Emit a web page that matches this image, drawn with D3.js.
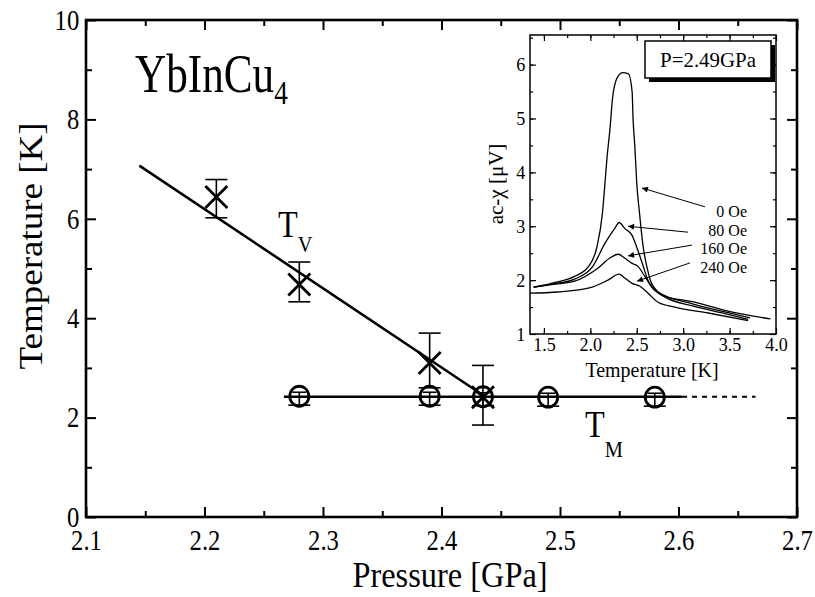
<!DOCTYPE html>
<html>
<head>
<meta charset="utf-8">
<script src="https://cdn.jsdelivr.net/npm/d3@7"></script>
<style>
  body { margin: 0; background: #fff; }
  svg { display: block; }
</style>
</head>
<body>
<script>
// main panel: T_V (crosses) and T_M (circles) vs pressure
const tvPressure = [2.21, 2.28, 2.39, 2.435];
const tvTemp     = [6.44, 4.68, 3.10, 2.41];
const tvErrLow   = [6.02, 4.33, 2.60, 1.85];
const tvErrHigh  = [6.79, 5.13, 3.70, 3.05];

const tmPressure = [2.28, 2.39, 2.435, 2.49, 2.58];
const tmTemp     = [2.43, 2.43, 2.42, 2.41, 2.41];
const tmErrLow   = [2.25, 2.25, 2.24, 2.23, 2.23];
const tmErrHigh  = [2.51, 2.51, 2.50, 2.49, 2.49];

// guide lines
const tvFitP = [2.145, 2.437], tvFitT = [7.07, 2.42];
const tmFitP = [2.267, 2.603], tmFitT = [2.42, 2.42];
const tmExtP = [2.603, 2.665], tmExtT = [2.42, 2.42];

// inset: ac-chi vs temperature at P = 2.49 GPa
const fields = ["0 Oe", "80 Oe", "160 Oe", "240 Oe"];
const chiT = [
  [1.39, 1.6, 1.83, 1.975, 2.07, 2.13, 2.16, 2.18, 2.21, 2.24, 2.29, 2.35, 2.41, 2.45, 2.46, 2.48, 2.50, 2.53, 2.57, 2.61, 2.66, 2.80, 3.10, 3.45, 3.94],
  [1.39, 1.6, 1.83, 2.02, 2.16, 2.27, 2.31, 2.37, 2.45, 2.50, 2.56, 2.62, 2.73, 3.10, 3.45, 3.72],
  [1.39, 1.6, 1.83, 2.08, 2.21, 2.30, 2.37, 2.45, 2.51, 2.59, 2.66, 2.80, 3.10, 3.45, 3.70],
  [1.35, 1.65, 2.02, 2.19, 2.31, 2.37, 2.45, 2.53, 2.62, 2.73, 2.91, 3.27, 3.70]
];
const chiV = [
  [1.87, 1.95, 2.07, 2.24, 2.61, 3.24, 3.85, 4.28, 4.78, 5.39, 5.76, 5.85, 5.83, 5.50, 5.00, 4.46, 3.80, 3.24, 2.61, 2.24, 1.94, 1.70, 1.60, 1.44, 1.28],
  [1.87, 1.93, 2.02, 2.24, 2.69, 2.98, 3.07, 2.96, 2.83, 2.61, 2.31, 2.00, 1.78, 1.56, 1.41, 1.30],
  [1.87, 1.92, 1.98, 2.22, 2.41, 2.48, 2.41, 2.31, 2.26, 2.06, 1.87, 1.69, 1.52, 1.38, 1.27],
  [1.76, 1.78, 1.87, 2.00, 2.11, 2.04, 1.94, 1.89, 1.76, 1.59, 1.50, 1.39, 1.25]
];
// arrows from labels to curves, in inset data units
const arrowFromT = [3.235, 3.052, 3.095, 3.074], arrowFromV = [3.36, 2.89, 2.65, 2.32];
const arrowToT   = [2.556, 2.406, 2.406, 2.503], arrowToV   = [3.71, 3.00, 2.45, 1.98];

const W = 815, H = 597;
const SX = 0.85; // the printed figure is squeezed horizontally
const FONT = '"Liberation Serif", "Times New Roman", serif';

const svg = d3.select("body").append("svg").attr("width", W).attr("height", H);

const x = d3.scaleLinear().domain([2.1, 2.7]).range([86, 797]);
const y = d3.scaleLinear().domain([0, 10]).range([517, 20]);

// squeezed text; parts = [[text, size, dy], ...]
const label = (px, py, parts, anchor = "start", rot = 0, sx = SX) => {
  const t = svg.append("text")
    .attr("text-anchor", anchor)
    .attr("transform", rot ? `translate(${px},${py}) rotate(${rot}) scale(1,${sx})`
                           : `translate(${px},${py}) scale(${sx},1)`);
  parts.forEach(([s, size, dy]) => t.append("tspan").attr("font-size", size).attr("dy", dy || 0).text(s));
  return t;
};

const styleAxis = (g, size, sw) => {
  g.select(".domain").remove();
  g.selectAll("line").attr("stroke-width", sw);
  g.attr("font-size", size);
  g.selectAll("text").attr("fill", "#000").attr("transform", `scale(${SX},1)`);
};

// main axes, ticks inward on all sides
const mainAxes = (xs, ys, left, right, top, bottom, major, minor, fs, sw, xMinor, yMinor, xFmt, yFmt) => {
  svg.append("g").attr("transform", `translate(0,${bottom})`)
    .call(d3.axisBottom(xs).ticks(6).tickFormat(xFmt).tickSize(-major).tickPadding(12))
    .call(g => styleAxis(g, fs, sw));
  svg.append("g").attr("transform", `translate(0,${bottom})`)
    .call(d3.axisBottom(xs).tickValues(xMinor).tickFormat("").tickSize(-minor))
    .call(g => styleAxis(g, fs, sw));
  svg.append("g").attr("transform", `translate(0,${top})`)
    .call(d3.axisTop(xs).ticks(6).tickFormat("").tickSize(-major))
    .call(g => styleAxis(g, fs, sw));
  svg.append("g").attr("transform", `translate(0,${top})`)
    .call(d3.axisTop(xs).tickValues(xMinor).tickFormat("").tickSize(-minor))
    .call(g => styleAxis(g, fs, sw));
  svg.append("g").attr("transform", `translate(${left},0)`)
    .call(d3.axisLeft(ys).ticks(6).tickFormat(yFmt).tickSize(-major).tickPadding(8))
    .call(g => styleAxis(g, fs, sw));
  svg.append("g").attr("transform", `translate(${left},0)`)
    .call(d3.axisLeft(ys).tickValues(yMinor).tickFormat("").tickSize(-minor))
    .call(g => styleAxis(g, fs, sw));
  svg.append("g").attr("transform", `translate(${right},0)`)
    .call(d3.axisRight(ys).ticks(6).tickFormat("").tickSize(-major))
    .call(g => styleAxis(g, fs, sw));
  svg.append("g").attr("transform", `translate(${right},0)`)
    .call(d3.axisRight(ys).tickValues(yMinor).tickFormat("").tickSize(-minor))
    .call(g => styleAxis(g, fs, sw));
};

mainAxes(x, y, 86, 797, 20, 517, 10, 6, 29, 2,
  d3.range(2.15, 2.7, 0.1), d3.range(1, 10, 2), d3.format(".1f"), d3.format("d"));

svg.append("rect").attr("x", 86).attr("y", 20).attr("width", 711).attr("height", 497)
  .attr("fill", "none").attr("stroke", "#000").attr("stroke-width", 2.6);

// guide lines
const mline = d3.line().x(d => x(d[0])).y(d => y(d[1]));
svg.append("path").datum(d3.zip(tvFitP, tvFitT)).attr("d", mline)
  .attr("fill", "none").attr("stroke", "#000").attr("stroke-width", 2.6);
svg.append("path").datum(d3.zip(tmFitP, tmFitT)).attr("d", mline)
  .attr("fill", "none").attr("stroke", "#000").attr("stroke-width", 2.6);
svg.append("path").datum(d3.zip(tmExtP, tmExtT)).attr("d", mline)
  .attr("fill", "none").attr("stroke", "#000").attr("stroke-width", 2).attr("stroke-dasharray", "5,5");

// error bars
const errBars = (P, lo, hi, capLo, capHi) => {
  const g = svg.append("g").attr("stroke", "#000").attr("stroke-width", 1.6);
  P.forEach((p, i) => {
    g.append("line").attr("x1", x(p)).attr("x2", x(p)).attr("y1", y(lo[i])).attr("y2", y(hi[i]));
    g.append("line").attr("x1", x(p) - capLo).attr("x2", x(p) + capLo).attr("y1", y(lo[i])).attr("y2", y(lo[i]));
    g.append("line").attr("x1", x(p) - capHi).attr("x2", x(p) + capHi).attr("y1", y(hi[i])).attr("y2", y(hi[i]));
  });
};
errBars(tvPressure, tvErrLow, tvErrHigh, 11, 11);
errBars(tmPressure, tmErrLow, tmErrHigh, 11, 7);

// circles (T_M)
svg.append("g").selectAll("ellipse").data(d3.zip(tmPressure, tmTemp)).join("ellipse")
  .attr("cx", d => x(d[0])).attr("cy", d => y(d[1])).attr("rx", 9.5).attr("ry", 10)
  .attr("fill", "none").attr("stroke", "#000").attr("stroke-width", 2.8);

// crosses (T_V)
const cs = 11;
svg.append("g").selectAll("path").data(d3.zip(tvPressure, tvTemp)).join("path")
  .attr("d", d => {
    const cx = x(d[0]), cy = y(d[1]);
    return `M${cx - cs},${cy - cs}L${cx + cs},${cy + cs}M${cx - cs},${cy + cs}L${cx + cs},${cy - cs}`;
  })
  .attr("fill", "none").attr("stroke", "#000").attr("stroke-width", 2.8);

// text of main panel
label(135, 92, [["YbInCu", 54], ["4", 34, 12]], "start", 0, 0.8);
label(278, 237, [["T", 38], ["V", 24, 15]]);
label(585, 437, [["T", 38], ["M", 24, 20]]);
label(450, 587, [["Pressure [GPa]", 36]], "middle", 0, 0.9);
label(42, 246, [["Temperature [K]", 37]], "middle", -90, 0.9);

// ---------- inset ----------
const ix = d3.scaleLinear().domain([1.35, 4.0]).range([530, 776]);
const iy = d3.scaleLinear().domain([1, 6.55]).range([334, 35]);

svg.append("rect").attr("x", 530).attr("y", 35).attr("width", 246).attr("height", 299)
  .attr("fill", "#fff");

const insetTicks = (gen, tr, vals, size, fmt, pad) =>
  svg.append("g").attr("transform", tr)
    .call(gen.tickValues(vals).tickFormat(fmt).tickSize(-size).tickPadding(pad || 3))
    .call(g => styleAxis(g, 19, 1.2))
    .call(g => g.selectAll("text").attr("transform", "scale(0.95,1)"));

const ixMajor = d3.range(1.5, 4.01, 0.5), ixMinor = d3.range(1.5, 4.0, 0.25);
const iyMajor = d3.range(1, 6.01, 1), iyMinor = d3.range(1.5, 6.6, 0.5);
insetTicks(d3.axisBottom(ix), "translate(0,334)", ixMajor, 6, d3.format(".1f"), 4);
insetTicks(d3.axisBottom(ix), "translate(0,334)", ixMinor, 3, "");
insetTicks(d3.axisTop(ix), "translate(0,35)", ixMajor, 6, "");
insetTicks(d3.axisTop(ix), "translate(0,35)", ixMinor, 3, "");
insetTicks(d3.axisLeft(iy), "translate(530,0)", iyMajor, 6, d3.format("d"), 5);
insetTicks(d3.axisLeft(iy), "translate(530,0)", iyMinor, 3, "");
insetTicks(d3.axisRight(iy), "translate(776,0)", iyMajor, 6, "");
insetTicks(d3.axisRight(iy), "translate(776,0)", iyMinor, 3, "");

svg.append("rect").attr("x", 530).attr("y", 35).attr("width", 246).attr("height", 299)
  .attr("fill", "none").attr("stroke", "#000").attr("stroke-width", 1.5);

const iline = d3.line().x(d => ix(d[0])).y(d => iy(d[1])).curve(d3.curveMonotoneX);
svg.append("g").selectAll("path").data(fields.map((f, i) => d3.zip(chiT[i], chiV[i]))).join("path")
  .attr("d", iline).attr("fill", "none").attr("stroke", "#000").attr("stroke-width", 1.3);

svg.append("defs").append("marker").attr("id", "head")
  .attr("viewBox", "0 0 10 10").attr("refX", 10).attr("refY", 5)
  .attr("markerWidth", 8).attr("markerHeight", 6).attr("markerUnits", "userSpaceOnUse")
  .attr("orient", "auto")
  .append("path").attr("d", "M0,0L10,5L0,10Z").attr("fill", "#000");

fields.forEach((f, i) => {
  svg.append("line")
    .attr("x1", ix(arrowFromT[i])).attr("y1", iy(arrowFromV[i]))
    .attr("x2", ix(arrowToT[i])).attr("y2", iy(arrowToV[i]))
    .attr("stroke", "#000").attr("stroke-width", 1).attr("marker-end", "url(#head)");
});
const fieldLabelY = [217, 236, 254, 273];
fields.forEach((f, i) => label(747, fieldLabelY[i], [[f, 16]], "end", 0, 1));

// pressure box with drop shadow
svg.append("rect").attr("x", 649).attr("y", 45).attr("width", 126).attr("height", 37).attr("fill", "#000");
svg.append("rect").attr("x", 645).attr("y", 41).attr("width", 126).attr("height", 37)
  .attr("fill", "#fff").attr("stroke", "#000").attr("stroke-width", 1.5);
label(708, 67, [["P=2.49GPa", 22]], "middle", 0, 0.95);

label(652, 377, [["Temperature [K]", 21]], "middle", 0, 0.95);
label(503, 184, [["ac-\u03c7 [\u03bcV]", 21]], "middle", -90, 0.95);

// serif everywhere
svg.selectAll("text").style("font-family", FONT);
</script>
</body>
</html>
